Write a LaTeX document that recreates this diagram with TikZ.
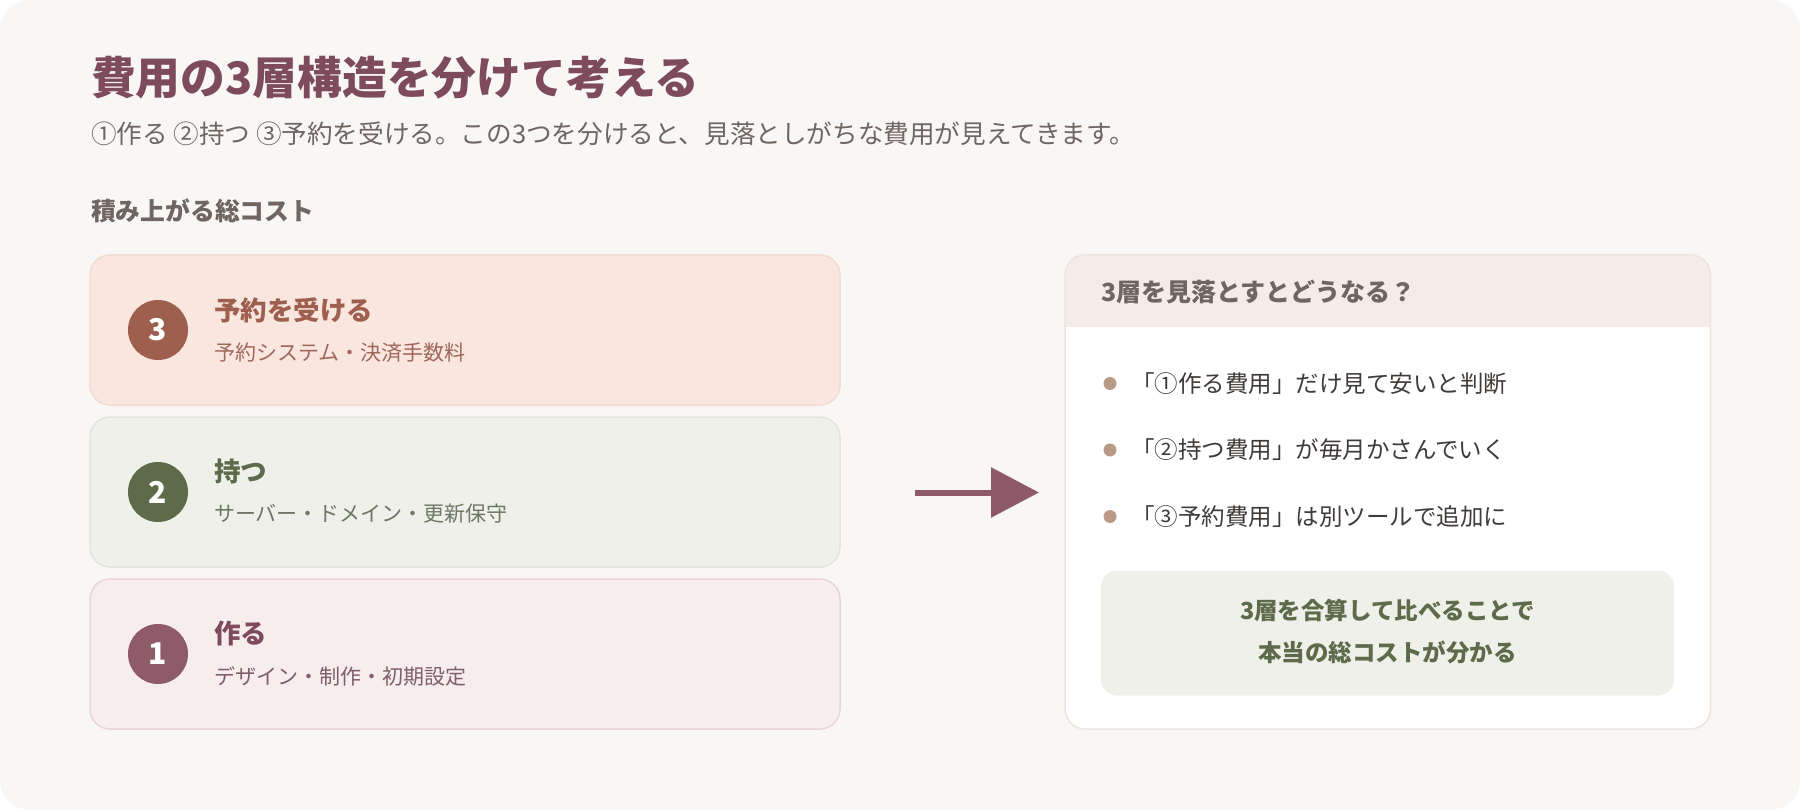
\documentclass[tikz,border=0pt]{standalone}
\usepackage{fontspec}
\setmainfont{Noto Sans CJK JP}
\usetikzlibrary{arrows.meta}
\definecolor{bgc}{HTML}{F8F7F5}
\definecolor{titlec}{HTML}{7D4B5C}
\definecolor{subc}{HTML}{6F6661}
\definecolor{cthreefill}{HTML}{F8E6DF}
\definecolor{cthreedraw}{HTML}{F1DBD2}
\definecolor{ctwofill}{HTML}{EEF0E9}
\definecolor{ctwodraw}{HTML}{E4E2DC}
\definecolor{conefill}{HTML}{F7EDEF}
\definecolor{conedraw}{HTML}{EAD3D9}
\definecolor{kthree}{HTML}{9E5F4F}
\definecolor{ktwo}{HTML}{5D6B4B}
\definecolor{kone}{HTML}{8E5B69}
\definecolor{tone}{HTML}{7D4B5C}
\definecolor{sthree}{HTML}{A0685A}
\definecolor{stwo}{HTML}{6E7763}
\definecolor{sone}{HTML}{7E5E68}
\definecolor{arrowc}{HTML}{8E5A68}
\definecolor{paneldraw}{HTML}{ECE4DF}
\definecolor{panelhead}{HTML}{F2EDE9}
\definecolor{bulletc}{HTML}{B99A87}
\definecolor{btext}{HTML}{3F3B39}
\definecolor{sumfill}{HTML}{EEF0E9}
\definecolor{sumtext}{HTML}{5D6B4B}
\tikzset{
  every node/.style={inner sep=0pt, outer sep=0pt},
  card/.style={rounded corners=20pt, line width=1.5pt, minimum width=750pt, minimum height=150pt},
  numcirc/.style={circle, minimum size=60pt, text=white, font=\bfseries\fontsize{30}{32}\selectfont},
  cardtitle/.style={anchor=west, font=\bfseries\fontsize{26.5}{30}\selectfont},
  cardsub/.style={anchor=west, font=\fontsize{21}{25}\selectfont},
  bulletdot/.style={circle, fill=bulletc, minimum size=13pt},
  bullettext/.style={anchor=west, text=btext, font=\fontsize{23.5}{28}\selectfont},
}
\begin{document}
\begin{tikzpicture}[x=1pt, y=-1pt]
\useasboundingbox (0,0) rectangle (1800,810);
\fill[white] (0,0) rectangle (1800,810);
\fill[bgc, rounded corners=30pt] (0,0) rectangle (1800,810);

% title
\node[anchor=west, text=titlec, font=\bfseries\fontsize{44.8}{50}\selectfont] (title) at (91,78) {費用の3層構造を分けて考える};
\node[anchor=west, text=subc, font=\fontsize{25.6}{30}\selectfont] (subtitle) at (91,134) {①作る ②持つ ③予約を受ける。この3つを分けると、見落としがちな費用が見えてきます。};
\node[anchor=west, text=subc, font=\bfseries\fontsize{24.8}{28}\selectfont] (section) at (91,211) {積み上がる総コスト};

% cards
\node[card, fill=cthreefill, draw=cthreedraw] (c3) at (465,330) {};
\node[card, fill=ctwofill, draw=ctwodraw] (c2) at (465,492) {};
\node[card, fill=conefill, draw=conedraw] (c1) at (465,654) {};

\node[numcirc, fill=kthree] (n3) at (158,330) {3};
\node[numcirc, fill=ktwo] (n2) at (158,492) {2};
\node[numcirc, fill=kone] (n1) at (158,654) {1};

\node[cardtitle, text=kthree] (t3) at (214,310) {予約を受ける};
\node[cardsub, text=sthree] (s3) at (214,352.5) {予約システム・決済手数料};
\node[cardtitle, text=ktwo] (t2) at (214,471) {持つ};
\node[cardsub, text=stwo] (s2) at (214,514) {サーバー・ドメイン・更新保守};
\node[cardtitle, text=tone] (t1) at (214,633) {作る};
\node[cardsub, text=sone] (s1) at (214,676) {デザイン・制作・初期設定};

% arrow
\coordinate (as) at (915,492.5);
\coordinate (ae) at (1039,492.5);
\draw[arrowc, line width=6pt, -{Triangle[length=48pt, width=49pt]}] (as) -- (ae);

% panel
\node[rounded corners=20pt, minimum width=645pt, minimum height=474pt, fill=white] (panel) at (1387.75,492) {};
\begin{scope}
\clip[rounded corners=20pt] (1065,255) rectangle (1710.5,729);
\fill[panelhead] (1065,255) rectangle (1710.5,327);
\end{scope}
\draw[paneldraw, line width=1.5pt, rounded corners=20pt] (1065,255) rectangle (1710.5,729);
\node[anchor=west, text=subc, font=\bfseries\fontsize{25}{30}\selectfont] (head) at (1101,292) {3層を見落とすとどうなる？};

\node[bulletdot] (d1) at (1110,383.5) {};
\node[bulletdot] (d2) at (1110,450) {};
\node[bulletdot] (d3) at (1110,516.5) {};
\node[bullettext] (b1) at (1131,383.5) {「①作る費用」だけ見て安いと判断};
\node[bullettext] (b2) at (1131,450) {「②持つ費用」が毎月かさんでいく};
\node[bullettext] (b3) at (1131,516.5) {「③予約費用」は別ツールで追加に};

\node[rounded corners=16pt, fill=sumfill, minimum width=573pt, minimum height=125pt] (sum) at (1387.5,633) {};
\node[text=sumtext, font=\bfseries\fontsize{23.5}{28}\selectfont] (sum1) at (1387.5,610) {3層を合算して比べることで};
\node[text=sumtext, font=\bfseries\fontsize{23.5}{28}\selectfont] (sum2) at (1387.5,652) {本当の総コストが分かる};
\end{tikzpicture}
\end{document}
